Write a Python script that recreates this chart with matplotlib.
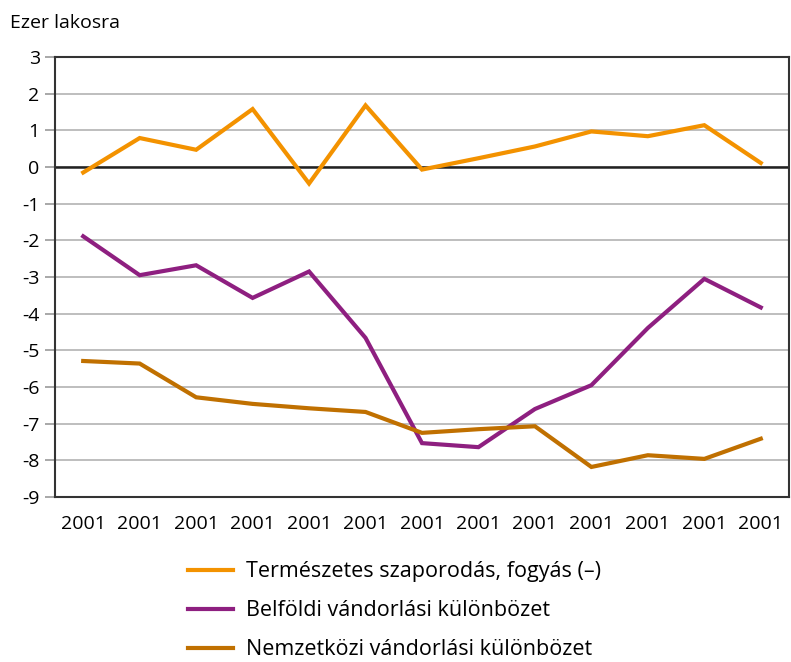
import numpy as np
import matplotlib
matplotlib.use("Agg")
import matplotlib.pyplot as plt

plt.rcParams["font.family"] = ["Open Sans", "DejaVu Sans"]

# data
years = ["2001"] * 13
termeszetes = [-0.15, 0.79, 0.47, 1.58, -0.45, 1.68, -0.07, 0.24, 0.56, 0.97, 0.84, 1.14, 0.11]
belfoldi = [-1.89, -2.95, -2.68, -3.57, -2.85, -4.66, -7.53, -7.64, -6.60, -5.95, -4.39, -3.05, -3.83]
nemzetkozi = [-5.29, -5.36, -6.28, -6.46, -6.58, -6.68, -7.25, -7.15, -7.07, -8.18, -7.86, -7.96, -7.41]

series = [
    ("Természetes szaporodás, fogyás (–)", termeszetes, "#F39200"),
    ("Belföldi vándorlási különbözet", belfoldi, "#8E1F80"),
    ("Nemzetközi vándorlási különbözet", nemzetkozi, "#C07000"),
]

fig = plt.figure(figsize=(7.91, 6.62), dpi=100)
ax = fig.add_axes([0.0695, 0.2492, 0.928, 0.6647])

x = np.arange(len(years))
handles = []
for label, vals, color in series:
    h, = ax.plot(x, vals, color=color, lw=3.0, label=label, zorder=3,
                 solid_joinstyle="miter")
    handles.append(h)

ax.set_xlim(-0.5, len(years) - 0.5)
ax.set_ylim(-9, 3)
ax.set_yticks(range(-9, 4))
ax.set_yticklabels([str(v) for v in range(-9, 4)], fontsize=14)
ax.set_xticks(x)
ax.set_xticklabels(years, fontsize=14)
ax.tick_params(axis="x", length=0, pad=13)
ax.tick_params(axis="y", length=7, color="#999999", width=1.2, pad=4)
ax.grid(axis="y", color="#b3b3b3", lw=1.2, zorder=1)
ax.axhline(0, color="#222222", lw=1.8, zorder=2)
for s in ax.spines.values():
    s.set_color("#333333")
    s.set_linewidth(1.5)

fig.text(0.013, 0.966, "Ezer lakosra", fontsize=14, ha="left", va="center")

fig.legend(handles=handles, loc="upper left", bbox_to_anchor=(0.227, 0.165),
           frameon=False, fontsize=15.5, handlelength=2.1, handletextpad=0.6,
           labelspacing=0.83, borderaxespad=0)

fig.savefig("out.png", dpi=100)
